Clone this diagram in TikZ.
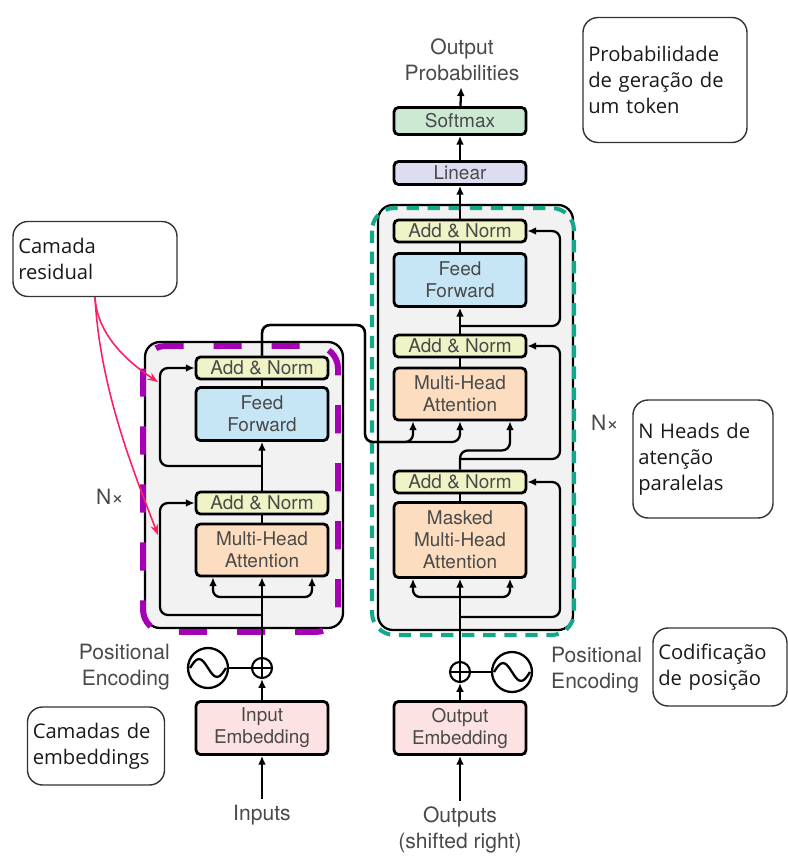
\documentclass[tikz,border=0pt]{standalone}
\usepackage{fontspec}
\setmainfont{TeX Gyre Heros}
\newfontfamily\annfont{Open Sans}
\usepackage{tikz}
\usetikzlibrary{positioning,calc,arrows.meta}
\definecolor{txtgray}{HTML}{4A4A4A}
\definecolor{anfill}{HTML}{F0F3C6}
\definecolor{fffill}{HTML}{C6E6F5}
\definecolor{attfill}{HTML}{FCDDBF}
\definecolor{embfill}{HTML}{FCE2E2}
\definecolor{softfill}{HTML}{CCEAD3}
\definecolor{linfill}{HTML}{DCDDF0}
\definecolor{boxgray}{HTML}{F2F2F2}
\definecolor{magdash}{RGB}{165,0,180}
\definecolor{tealdash}{RGB}{20,168,138}
\definecolor{respink}{RGB}{255,30,100}

\begin{document}
\begin{tikzpicture}[x=0.02cm, y=-0.02cm,
    blk/.style={draw, line width=1.6pt, rounded corners=2.5pt, minimum width=2.64cm, inner sep=0pt, align=center, text=txtgray, font=\fontsize{10.8}{12.5}\selectfont},
    addnorm/.style={blk, fill=anfill, minimum height=0.44cm},
    ffblk/.style={blk, fill=fffill, minimum height=1.06cm},
    attblk/.style={blk, fill=attfill, minimum height=1.04cm},
    embblk/.style={blk, fill=embfill, minimum height=1.06cm},
    lbl/.style={text=txtgray, font=\fontsize{12}{14.8}\selectfont, align=center},
    annot/.style={draw=black!80, line width=0.8pt, rounded corners=0.3cm, inner xsep=3pt, align=left, text=black!90, font=\annfont\fontsize{11.5}{14.8}\selectfont},
    plus/.style={draw, circle, line width=1.2pt, minimum size=0.4cm, inner sep=0pt},
    sine/.style={draw, circle, line width=1.3pt, minimum size=0.8cm, inner sep=0pt},
    arr/.style={line width=1.3pt, -{Latex[length=5pt,width=4.5pt]}},
    ln/.style={line width=1.3pt},
    resarr/.style={respink, line width=0.9pt, -{Stealth[length=6pt,width=4.5pt]}}]

    \useasboundingbox (0,0) rectangle (788,856);

    \draw[fill=boxgray, line width=1.3pt, rounded corners=0.3cm] (145,342) rectangle (343,628);
    \draw[fill=boxgray, line width=1.3pt, rounded corners=0.3cm] (378,205) rectangle (573,630);
    \draw[magdash, line width=3.4pt, dash pattern=on 16pt off 17pt, rounded corners=0.45cm] (143,346) rectangle (338,632);
    \draw[tealdash, line width=2.3pt, dash pattern=on 7pt off 5pt, rounded corners=0.45cm] (372,208) rectangle (574,635);

    \node[addnorm] (ean2) at (262,368) {Add \& Norm};
    \node[ffblk] (eff) at (262,414) {Feed\\Forward};
    \node[addnorm] (ean1) at (262,503) {Add \& Norm};
    \node[attblk] (emha) at (262,550) {Multi-Head\\Attention};
    \node[embblk] (eemb) at (262,728) {Input\\Embedding};
    \node[lbl] (ein) at (262,815) {Inputs};
    \node[plus] (eplus) at (262,668) {};
    \node[sine] (esin) at (208,668) {};
    \node[lbl, align=right, anchor=east] (epos) at (176,667) {Positional\\Encoding};
    \node[lbl] (enx) at (110,497) {N×};

    \node[addnorm] (dan3) at (460,231) {Add \& Norm};
    \node[ffblk] (dff) at (460,280) {Feed\\Forward};
    \node[addnorm] (dan2) at (460,346) {Add \& Norm};
    \node[attblk] (dmha) at (460,394) {Multi-Head\\Attention};
    \node[addnorm] (dan1) at (460,482) {Add \& Norm};
    \node[attblk, minimum height=1.5cm] (dmmha) at (460,540) {Masked\\Multi-Head\\Attention};
    \node[embblk] (demb) at (460,728) {Output\\Embedding};
    \node[lbl] (dout) at (460,830) {Outputs\\(shifted right)};
    \node[plus] (dplus) at (460,672) {};
    \node[sine] (dsin) at (512,672) {};
    \node[lbl, align=left, anchor=west] (dpos) at (545,670) {Positional\\Encoding};
    \node[lbl] (dnx) at (605,423) {N×};
    \node[blk, fill=linfill, minimum height=0.46cm] (lin) at (460,173) {Linear};
    \node[blk, fill=softfill, minimum height=0.54cm] (soft) at (460,121) {Softmax};
    \node[lbl] (dprob) at (462,60) {Output\\Probabilities};

    \node[annot, text width=3.07cm, minimum height=1.5cm] (camres) at (95,259) {Camada\\residual};
    \node[annot, text width=3.07cm, minimum height=2.5cm] (prob) at (665,80) {Probabilidade\\de geração de\\um token};
    \node[annot, text width=2.59cm, minimum height=2.36cm] (heads) at (703,459) {N Heads de\\atenção\\paralelas};
    \node[annot, text width=2.47cm, minimum height=1.56cm] (codpos) at (720,667) {Codificação\\de posição};
    \node[annot, text width=2.53cm, minimum height=1.56cm] (camemb) at (96,746) {Camadas de\\embeddings};

    \draw[line width=1pt] (eplus.north) -- (eplus.south) (eplus.west) -- (eplus.east);
    \draw[line width=1pt] (dplus.north) -- (dplus.south) (dplus.west) -- (dplus.east);
    \draw[line width=1.3pt] ($(esin.center)+(-18,0)$) sin ++(9,-9) cos ++(9,9) sin ++(9,9) cos ++(9,-9);
    \draw[line width=1.3pt] ($(dsin.center)+(-18,0)$) sin ++(9,-9) cos ++(9,9) sin ++(9,9) cos ++(9,-9);

    \draw[arr] (ein) -- (eemb);
    \draw[arr] (eemb) -- (eplus);
    \draw[ln] (esin) -- (eplus);
    \draw[arr] (eplus) -- (emha);
    \draw[ln] (emha) -- (ean1);
    \draw[arr] (ean1) -- (eff);
    \draw[ln] (eff) -- (ean2);
    \coordinate (ebr) at (262,597);
    \draw[arr, rounded corners=4pt] (ebr) -| ($(emha.south)+(-49,0)$);
    \draw[arr, rounded corners=4pt] (ebr) -| ($(emha.south)+(50,0)$);
    \coordinate (el) at (160,0);
    \coordinate (er1) at (262,466);
    \coordinate (er2) at (262,615);
    \draw[arr, rounded corners=4.5pt] (er1) -| (el |- ean2.west) -- (ean2.west);
    \draw[arr, rounded corners=4.5pt] (er2) -| (el |- ean1.west) -- (ean1.west);

    \coordinate (eo1) at (365,325);
    \coordinate (eo2) at (365,442);
    \draw[arr, rounded corners=4.5pt] (ean2.north) |- (eo1) -- (eo2) -| ($(dmha.south)+(-47,0)$);
    \draw[arr, rounded corners=4.5pt] (ean2.north) |- (eo1) -- (eo2) -| (dmha.south);

    \draw[arr] (dout) -- (demb);
    \draw[arr] (demb) -- (dplus);
    \draw[ln] (dplus) -- (dsin);
    \draw[arr] (dplus) -- (dmmha);
    \coordinate (dbr) at (460,597);
    \draw[arr, rounded corners=4pt] (dbr) -| ($(dmmha.south)+(-47,0)$);
    \draw[arr, rounded corners=4pt] (dbr) -| ($(dmmha.south)+(50,0)$);
    \draw[ln] (dmmha) -- (dan1);
    \coordinate (dx) at (560,0);
    \coordinate (dr1) at (460,617);
    \coordinate (dr2) at (460,459);
    \coordinate (dr3) at (460,326);
    \draw[arr, rounded corners=4.5pt] (dr1) -| (dx |- dan1.east) -- (dan1.east);
    \draw[arr, rounded corners=4.5pt] (dr2) -| (dx |- dan2.east) -- (dan2.east);
    \draw[arr, rounded corners=4.5pt] (dan1.north) |- ($(dmha.south)+(50,29)$) -- ($(dmha.south)+(50,0)$);
    \draw[ln] (dmha) -- (dan2);
    \draw[arr] (dan2) -- (dff);
    \draw[arr, rounded corners=4.5pt] (dr3) -| (dx |- dan3.east) -- (dan3.east);
    \draw[ln] (dff) -- (dan3);
    \draw[arr] (dan3) -- (lin);
    \draw[arr] (lin) -- (soft);
    \draw[arr] (soft) -- (dprob);

    \coordinate (res1) at (158,382);
    \coordinate (res2) at (158,535);
    \draw[resarr] (camres.south) .. controls (97,335) and (128,362) .. (res1);
    \draw[resarr] (camres.south) .. controls (100,390) and (135,475) .. (res2);
\end{tikzpicture}
\end{document}
